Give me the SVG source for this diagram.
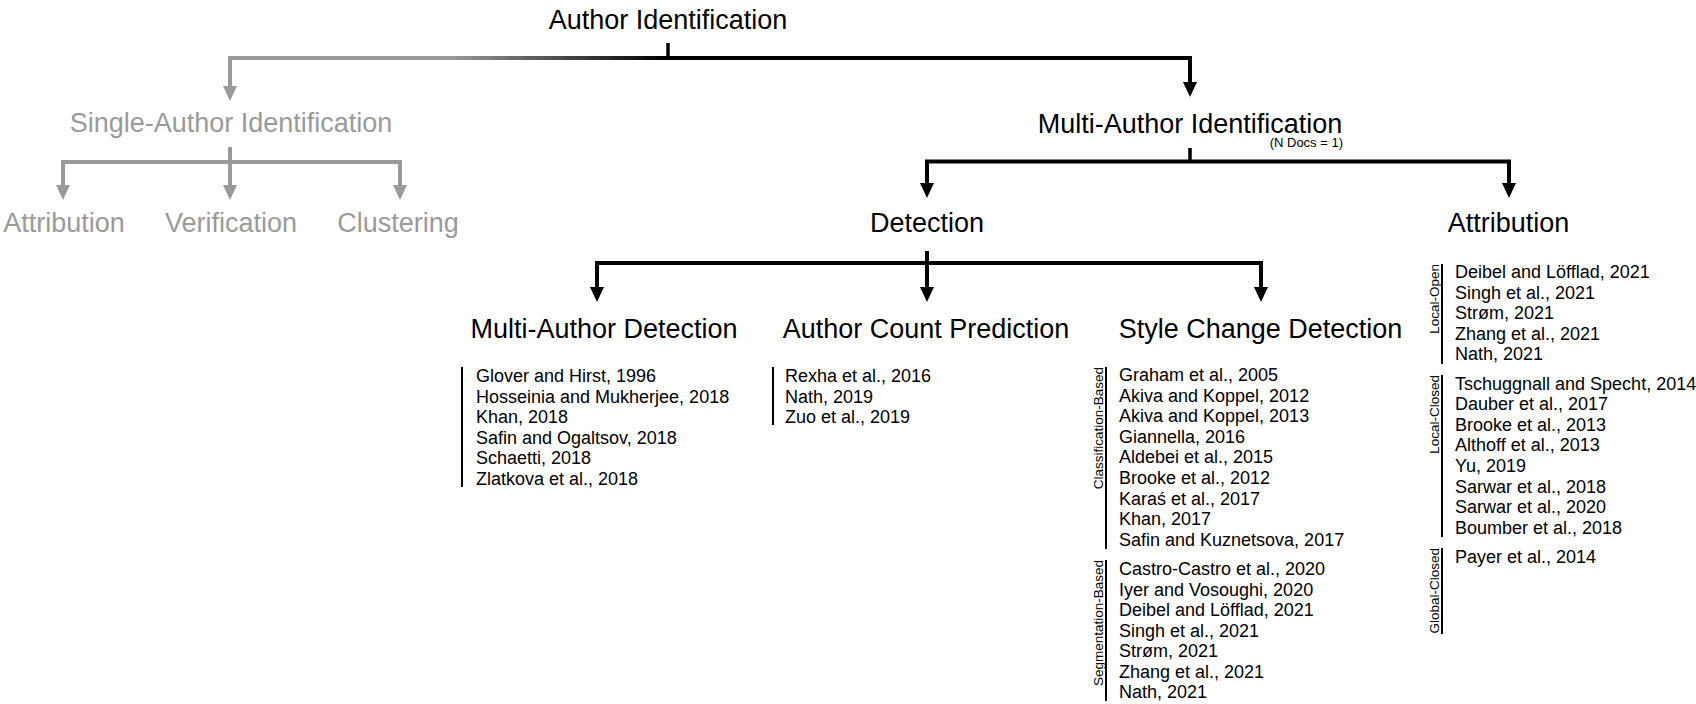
<svg xmlns="http://www.w3.org/2000/svg" width="1696" height="704" viewBox="0 0 1696 704">
  <style>
    text { font-family: "Liberation Sans", Arial, Helvetica, sans-serif; fill: #000; }
    .h { font-size: 27px; text-anchor: middle; }
    .muted { fill: #9a9a9a; }
    .note { font-size: 13px; text-anchor: end; }
    .ref { font-size: 18px; }
    .tag { font-size: 13.5px; text-anchor: end; }
    .wire { fill: none; stroke: #000; stroke-width: 4; stroke-linejoin: miter; }
    .wire-muted { fill: none; stroke: #9a9a9a; stroke-width: 4; stroke-linejoin: miter; }
    .tick { fill: none; stroke: #000; stroke-width: 3.5; }
    .bar { fill: none; stroke: #000; stroke-width: 2; }
  </style>
  <defs>
    <marker id="head" markerUnits="userSpaceOnUse" markerWidth="16" markerHeight="16" refX="7" refY="7" orient="auto">
      <path d="M0,0 L15,7 L0,14 z" fill="#000"/>
    </marker>
    <marker id="head-muted" markerUnits="userSpaceOnUse" markerWidth="16" markerHeight="16" refX="7" refY="7" orient="auto">
      <path d="M0,0 L15,7 L0,14 z" fill="#9a9a9a"/>
    </marker>
    <linearGradient id="fade" gradientUnits="userSpaceOnUse" x1="450" y1="0" x2="665" y2="0">
      <stop offset="0" stop-color="#9a9a9a"/>
      <stop offset="1" stop-color="#000"/>
    </linearGradient>
  </defs>

  <rect width="1696" height="704" fill="#fff"/>

  <!-- tree connectors -->
  <g id="connectors">
    <!-- root split -->
    <path class="tick" d="M668,43 V58"/>
    <path d="M668,58 H230 V93" fill="none" stroke="url(#fade)" stroke-width="4" marker-end="url(#head-muted)"/>
    <path class="wire" d="M668,58 H1190 V89" marker-end="url(#head)"/>
    <!-- single-author branch -->
    <path class="wire-muted" d="M230,147 V192" marker-end="url(#head-muted)"/>
    <path class="wire-muted" d="M230,162 H63 V192" marker-end="url(#head-muted)"/>
    <path class="wire-muted" d="M230,162 H400 V192" marker-end="url(#head-muted)"/>
    <!-- multi-author branch -->
    <path class="tick" d="M1190,148 V161.5"/>
    <path class="wire" d="M1190,161.5 H927 V190" marker-end="url(#head)"/>
    <path class="wire" d="M1190,161.5 H1509 V190" marker-end="url(#head)"/>
    <!-- detection branch -->
    <path class="wire" d="M927,251 V294" marker-end="url(#head)"/>
    <path class="wire" d="M927,263 H597 V294" marker-end="url(#head)"/>
    <path class="wire" d="M927,263 H1261 V294" marker-end="url(#head)"/>
  </g>

  <g id="author-identification">
    <text class="h" x="668" y="29">Author Identification</text>
  </g>

  <g id="single-author-identification">
    <text class="h muted" x="231" y="132">Single-Author Identification</text>
  </g>
  <g id="single-attribution">
    <text class="h muted" x="64" y="232">Attribution</text>
  </g>
  <g id="single-verification">
    <text class="h muted" x="231" y="232">Verification</text>
  </g>
  <g id="single-clustering">
    <text class="h muted" x="398" y="232">Clustering</text>
  </g>

  <g id="multi-author-identification">
    <text class="h" x="1190" y="133">Multi-Author Identification</text>
    <text class="note" x="1343" y="146.5">(N Docs = 1)</text>
  </g>

  <g id="detection">
    <text class="h" x="927" y="232">Detection</text>
  </g>

  <g id="attribution">
    <text class="h" x="1508.5" y="232">Attribution</text>
    <!-- local-open -->
    <line class="bar" x1="1442" y1="264" x2="1442" y2="364"/>
    <text class="tag" transform="translate(1439,264) rotate(-90)">Local-Open</text>
    <text class="ref">
      <tspan x="1455" y="278">Deibel and Löfflad, 2021</tspan>
      <tspan x="1455" y="298.6">Singh et al., 2021</tspan>
      <tspan x="1455" y="319.2">Strøm, 2021</tspan>
      <tspan x="1455" y="339.8">Zhang et al., 2021</tspan>
      <tspan x="1455" y="360.4">Nath, 2021</tspan>
    </text>
    <!-- local-closed -->
    <line class="bar" x1="1442" y1="375" x2="1442" y2="537"/>
    <text class="tag" transform="translate(1439,375) rotate(-90)">Local-Closed</text>
    <text class="ref">
      <tspan x="1455" y="389.5">Tschuggnall and Specht, 2014</tspan>
      <tspan x="1455" y="410.1">Dauber et al., 2017</tspan>
      <tspan x="1455" y="430.7">Brooke et al., 2013</tspan>
      <tspan x="1455" y="451.3">Althoff et al., 2013</tspan>
      <tspan x="1455" y="471.9">Yu, 2019</tspan>
      <tspan x="1455" y="492.5">Sarwar et al., 2018</tspan>
      <tspan x="1455" y="513.1">Sarwar et al., 2020</tspan>
      <tspan x="1455" y="533.7">Boumber et al., 2018</tspan>
    </text>
    <!-- global-closed -->
    <line class="bar" x1="1442" y1="548" x2="1442" y2="634"/>
    <text class="tag" transform="translate(1439,548) rotate(-90)">Global-Closed</text>
    <text class="ref">
      <tspan x="1455" y="562.5">Payer et al., 2014</tspan>
    </text>
  </g>

  <g id="multi-author-detection">
    <text class="h" x="604" y="337.5">Multi-Author Detection</text>
    <line class="bar" x1="462" y1="367" x2="462" y2="487"/>
    <text class="ref">
      <tspan x="476" y="382">Glover and Hirst, 1996</tspan>
      <tspan x="476" y="402.5">Hosseinia and Mukherjee, 2018</tspan>
      <tspan x="476" y="423">Khan, 2018</tspan>
      <tspan x="476" y="443.5">Safin and Ogaltsov, 2018</tspan>
      <tspan x="476" y="464">Schaetti, 2018</tspan>
      <tspan x="476" y="484.5">Zlatkova et al., 2018</tspan>
    </text>
  </g>

  <g id="author-count-prediction">
    <text class="h" x="926" y="337.5">Author Count Prediction</text>
    <line class="bar" x1="773" y1="367" x2="773" y2="425"/>
    <text class="ref">
      <tspan x="785" y="382">Rexha et al., 2016</tspan>
      <tspan x="785" y="402.5">Nath, 2019</tspan>
      <tspan x="785" y="423">Zuo et al., 2019</tspan>
    </text>
  </g>

  <g id="style-change-detection">
    <text class="h" x="1260.5" y="337.5">Style Change Detection</text>
    <!-- classification-based -->
    <line class="bar" x1="1106" y1="367" x2="1106" y2="549"/>
    <text class="tag" transform="translate(1103,367) rotate(-90)">Classification-Based</text>
    <text class="ref">
      <tspan x="1119" y="381">Graham et al., 2005</tspan>
      <tspan x="1119" y="401.6">Akiva and Koppel, 2012</tspan>
      <tspan x="1119" y="422.2">Akiva and Koppel, 2013</tspan>
      <tspan x="1119" y="442.8">Giannella, 2016</tspan>
      <tspan x="1119" y="463.4">Aldebei et al., 2015</tspan>
      <tspan x="1119" y="484">Brooke et al., 2012</tspan>
      <tspan x="1119" y="504.6">Karaś et al., 2017</tspan>
      <tspan x="1119" y="525.2">Khan, 2017</tspan>
      <tspan x="1119" y="545.8">Safin and Kuznetsova, 2017</tspan>
    </text>
    <!-- segmentation-based -->
    <line class="bar" x1="1106" y1="560" x2="1106" y2="701"/>
    <text class="tag" transform="translate(1103,560) rotate(-90)">Segmentation-Based</text>
    <text class="ref">
      <tspan x="1119" y="575">Castro-Castro et al., 2020</tspan>
      <tspan x="1119" y="595.5">Iyer and Vosoughi, 2020</tspan>
      <tspan x="1119" y="616">Deibel and Löfflad, 2021</tspan>
      <tspan x="1119" y="636.5">Singh et al., 2021</tspan>
      <tspan x="1119" y="657">Strøm, 2021</tspan>
      <tspan x="1119" y="677.5">Zhang et al., 2021</tspan>
      <tspan x="1119" y="698">Nath, 2021</tspan>
    </text>
  </g>
</svg>
